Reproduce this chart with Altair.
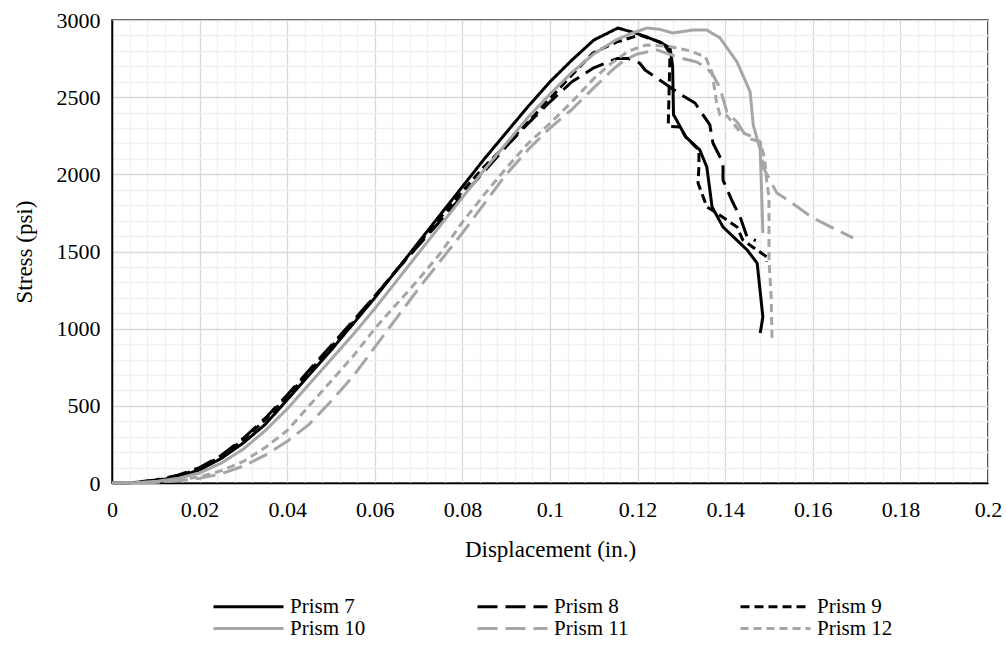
import altair as alt
import pandas as pd

# ---- data (displacement in., stress psi) ----
P7_X = [0, 0.005, 0.01, 0.015, 0.02, 0.025, 0.03, 0.035, 0.04, 0.045, 0.05, 0.055, 0.06, 0.065, 0.07, 0.075,
        0.08, 0.085, 0.09, 0.095, 0.1, 0.105, 0.11, 0.1155, 0.119, 0.1221, 0.1255, 0.1274, 0.128, 0.1282,
        0.1285, 0.131, 0.1342, 0.1358, 0.137, 0.1395, 0.145, 0.1473, 0.1486, 0.148]
P7_Y = [0, 3, 15, 40, 85, 160, 260, 380, 540, 700, 860, 1030, 1200, 1380, 1560, 1740,
        1920, 2100, 2270, 2440, 2600, 2740, 2870, 2948, 2920, 2890, 2850, 2819, 2700, 2385,
        2372, 2242, 2158, 2048, 1789, 1659, 1510, 1425, 1076, 972]

P8_X = [0, 0.005, 0.01, 0.015, 0.02, 0.025, 0.03, 0.035, 0.04, 0.045, 0.05, 0.055, 0.06, 0.065, 0.07, 0.075,
        0.08, 0.085, 0.09, 0.095, 0.1, 0.105, 0.11, 0.1153, 0.118, 0.1205, 0.1217, 0.1244, 0.13, 0.1331,
        0.1365, 0.1372, 0.1395, 0.1395, 0.1418, 0.1434, 0.145, 0.147]
P8_Y = [0, 4, 20, 50, 100, 180, 290, 420, 570, 730, 890, 1050, 1210, 1380, 1540, 1700,
        1860, 2020, 2180, 2330, 2470, 2600, 2690, 2750, 2750, 2720, 2676, 2624, 2514, 2462,
        2320, 2203, 2074, 1963, 1814, 1724, 1594, 1570]

P9_X = [0, 0.005, 0.01, 0.015, 0.02, 0.025, 0.03, 0.035, 0.04, 0.045, 0.05, 0.055, 0.06, 0.065, 0.07, 0.075,
        0.08, 0.085, 0.0886, 0.0961, 0.1039, 0.1098, 0.1153, 0.1205, 0.1258, 0.1274, 0.127, 0.1275, 0.1297,
        0.131, 0.134, 0.134, 0.1338, 0.1358, 0.137, 0.1427, 0.144, 0.1495, 0.1495]
P9_Y = [0, 3, 18, 45, 95, 175, 280, 410, 560, 720, 880, 1040, 1210, 1380, 1550, 1720,
        1890, 2050, 2150, 2372, 2611, 2786, 2858, 2903, 2851, 2786, 2320, 2310, 2307,
        2242, 2158, 2048, 1944, 1789, 1769, 1659, 1575, 1465, 1432]

P10_X = [0, 0.005, 0.01, 0.015, 0.02, 0.025, 0.03, 0.035, 0.04, 0.045, 0.05, 0.055, 0.06, 0.065, 0.07, 0.075,
         0.08, 0.085, 0.09, 0.095, 0.1, 0.105, 0.11, 0.115, 0.1183, 0.1221, 0.125, 0.128, 0.1327, 0.1358,
         0.1388, 0.1427, 0.1457, 0.1464, 0.148, 0.1486]
P10_Y = [0, 2, 10, 30, 65, 130, 220, 340, 480, 640, 800, 960, 1130, 1310, 1490, 1670,
         1850, 2030, 2200, 2370, 2520, 2660, 2780, 2870, 2910, 2948, 2940, 2916, 2935, 2935,
         2884, 2728, 2534, 2320, 2158, 1620]

P11_X = [0, 0.005, 0.01, 0.015, 0.02, 0.025, 0.03, 0.035, 0.04, 0.045, 0.05, 0.055, 0.06, 0.065, 0.07, 0.075,
         0.08, 0.085, 0.09, 0.095, 0.1, 0.105, 0.11, 0.114, 0.117, 0.12, 0.1244, 0.1297, 0.1335, 0.1358,
         0.1372, 0.1388, 0.1404, 0.1427, 0.145, 0.148, 0.1486, 0.1518, 0.1543, 0.16, 0.1632, 0.1692]
P11_Y = [0, 1, 5, 14, 30, 60, 110, 180, 270, 380, 530, 690, 880, 1070, 1260, 1440,
         1620, 1810, 2000, 2160, 2300, 2420, 2560, 2670, 2741, 2780, 2806, 2754, 2728, 2689,
         2644, 2560, 2404, 2339, 2236, 2210, 2048, 1879, 1834, 1717, 1672, 1588]

P12_X = [0, 0.005, 0.01, 0.015, 0.02, 0.025, 0.03, 0.035, 0.04, 0.045, 0.05, 0.055, 0.06, 0.065, 0.07, 0.075,
         0.08, 0.085, 0.09, 0.095, 0.1, 0.105, 0.11, 0.114, 0.118, 0.122, 0.127, 0.132, 0.1355, 0.137,
         0.138, 0.1388, 0.1404, 0.1434, 0.1457, 0.148, 0.149, 0.1495, 0.15, 0.15, 0.1505, 0.1507]
P12_Y = [0, 1, 6, 18, 40, 80, 140, 230, 340, 500, 660, 820, 1000, 1160, 1320, 1490,
         1690, 1870, 2040, 2200, 2330, 2470, 2620, 2720, 2800, 2838, 2830, 2800, 2760, 2660,
         2469, 2385, 2380, 2275, 2250, 2210, 2100, 1950, 1853, 1445, 1200, 927]

SERIES = ["Prism 7", "Prism 8", "Prism 9", "Prism 10", "Prism 11", "Prism 12"]
XS = [P7_X, P8_X, P9_X, P10_X, P11_X, P12_X]
YS = [P7_Y, P8_Y, P9_Y, P10_Y, P11_Y, P12_Y]

# ---- styles ----
COLORS = ["#000000", "#000000", "#000000", "#a6a6a6", "#a6a6a6", "#a6a6a6"]
DASHES = [[1, 0], [20, 8], [9, 5], [1, 0], [20, 8], [8, 5]]

rows = []
for name, xs, ys in zip(SERIES, XS, YS):
    for i, (x, y) in enumerate(zip(xs, ys)):
        rows.append({"series": name, "disp": x, "stress": y, "idx": i})
df = pd.DataFrame(rows)

x_vals = [round(i * 0.004, 3) for i in range(51)]
y_vals = [i * 100 for i in range(31)]

FONT = "'Liberation Serif', 'Times New Roman', 'DejaVu Serif', serif"

x_axis = alt.Axis(
    values=x_vals,
    title="Displacement (in.)",
    labelExpr="abs(datum.value*50 - round(datum.value*50)) < 1e-6 ? format(datum.value, '~g') : ''",
    gridColor={"condition": {"test": "abs(datum.value*50 - round(datum.value*50)) < 1e-6",
                             "value": "#d9d9d9"}, "value": "#f0f0f0"},
    gridWidth=1.3,
    ticks=False,
    domainColor="#000000",
    domainWidth=1.5,
    labelFlush=False,
    labelOverlap=False,
    labelPadding=16,
    titlePadding=18,
    labelFont=FONT, titleFont=FONT, labelFontSize=22, titleFontSize=23,
    labelColor="#000000", titleColor="#000000", titleFontWeight="normal",
)
y_axis = alt.Axis(
    values=y_vals,
    title="Stress (psi)",
    labelExpr="datum.value % 500 === 0 ? format(datum.value, 'd') : ''",
    gridColor={"condition": {"test": "datum.value % 500 === 0", "value": "#d9d9d9"},
               "value": "#f0f0f0"},
    gridWidth=1.3,
    ticks=False,
    domainColor="#000000",
    domainWidth=1.5,
    labelFlush=False,
    labelOverlap=False,
    labelPadding=12,
    titlePadding=20,
    labelFont=FONT, titleFont=FONT, labelFontSize=22, titleFontSize=23,
    labelColor="#000000", titleColor="#000000", titleFontWeight="normal",
)

legend = alt.Legend(
    title=None, orient="none", legendX=125, legendY=575, direction="horizontal",
    columns=3, columnPadding=105, rowPadding=-4,
    symbolType="M-3.5,0H3.5", symbolSize=400, symbolStrokeWidth=3,
    labelFontSize=21, labelFont=FONT, labelColor="#000000", labelOffset=30,
)

chart = alt.Chart(df).mark_line(strokeWidth=3, strokeCap="butt", strokeJoin="round").encode(
    x=alt.X("disp:Q", scale=alt.Scale(domain=[0, 0.2], nice=False, zero=False), axis=x_axis),
    y=alt.Y("stress:Q", scale=alt.Scale(domain=[0, 3000], nice=False), axis=y_axis),
    color=alt.Color("series:N", scale=alt.Scale(domain=SERIES, range=COLORS), legend=legend),
    strokeDash=alt.StrokeDash("series:N", scale=alt.Scale(domain=SERIES, range=DASHES), legend=legend),
    order=alt.Order("idx:Q"),
    detail="series:N",
).properties(
    width=876,
    height=463,
    autosize=alt.AutoSizeParams(type="none"),
    padding={"left": 112, "top": 20, "right": 18, "bottom": 167},
    background="#ffffff",
).configure_view(
    stroke="#000000",
    strokeWidth=1.5,
)

chart.save("out.html", embed_options={"renderer": "svg", "actions": False})
